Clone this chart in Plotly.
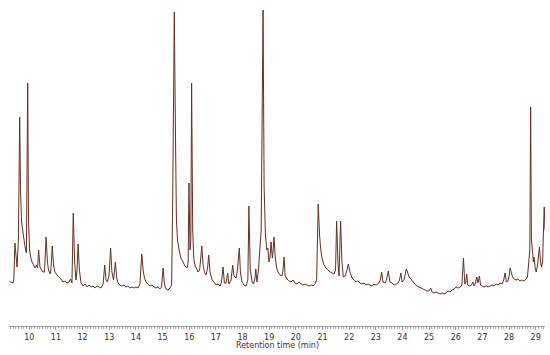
import plotly.graph_objects as go

# retention time (min) and detector response (arbitrary units)
retention_time = [
    9.26, 9.31, 9.39, 9.42, 9.46, 9.50, 9.54, 9.59, 9.64, 9.67,
    9.71, 9.74, 9.78, 9.82, 9.86, 9.89, 9.94, 9.97, 10.01, 10.05,
    10.10, 10.16, 10.21, 10.27, 10.31, 10.35, 10.40, 10.46, 10.51, 10.57,
    10.63, 10.68, 10.72, 10.78, 10.81, 10.86, 10.91, 10.96, 11.04, 11.11,
    11.19, 11.26, 11.34, 11.41, 11.49, 11.55, 11.60, 11.65, 11.70, 11.75,
    11.79, 11.83, 11.88, 11.94, 12.02, 12.09, 12.17, 12.24, 12.32, 12.39,
    12.47, 12.54, 12.62, 12.69, 12.77, 12.83, 12.88, 12.93, 12.99, 13.05,
    13.10, 13.16, 13.23, 13.28, 13.33, 13.40, 13.48, 13.55, 13.63, 13.70,
    13.78, 13.85, 13.93, 14.00, 14.08, 14.15, 14.22, 14.27, 14.32, 14.38,
    14.45, 14.53, 14.60, 14.68, 14.75, 14.83, 14.90, 14.96, 15.02, 15.07,
    15.13, 15.20, 15.28, 15.34, 15.38, 15.44, 15.49, 15.52, 15.56, 15.62,
    15.69, 15.77, 15.84, 15.92, 15.96, 15.99, 16.03, 16.06, 16.09, 16.13,
    16.17, 16.22, 16.27, 16.33, 16.39, 16.42, 16.47, 16.52, 16.57, 16.63,
    16.69, 16.73, 16.78, 16.86, 16.93, 17.01, 17.08, 17.16, 17.21, 17.27,
    17.32, 17.38, 17.44, 17.49, 17.57, 17.63, 17.68, 17.76, 17.81, 17.88,
    17.92, 17.98, 18.05, 18.13, 18.20, 18.24, 18.29, 18.36, 18.41, 18.47,
    18.50, 18.54, 18.60, 18.66, 18.70, 18.77, 18.81, 18.86, 18.91, 18.95,
    18.99, 19.03, 19.07, 19.12, 19.15, 19.18, 19.23, 19.28, 19.33, 19.41,
    19.48, 19.52, 19.56, 19.60, 19.67, 19.74, 19.82, 19.89, 19.97, 20.05,
    20.12, 20.20, 20.27, 20.35, 20.42, 20.50, 20.57, 20.65, 20.72, 20.78,
    20.84, 20.89, 20.93, 20.98, 21.06, 21.13, 21.21, 21.28, 21.36, 21.43,
    21.49, 21.53, 21.58, 21.62, 21.68, 21.73, 21.78, 21.85, 21.90, 21.97,
    22.03, 22.11, 22.18, 22.26, 22.33, 22.41, 22.48, 22.56, 22.63, 22.71,
    22.78, 22.86, 22.93, 23.01, 23.08, 23.16, 23.22, 23.27, 23.35, 23.40,
    23.47, 23.53, 23.61, 23.69, 23.76, 23.84, 23.89, 23.94, 23.99, 24.06,
    24.10, 24.14, 24.19, 24.25, 24.32, 24.40, 24.47, 24.55, 24.62, 24.70,
    24.77, 24.85, 24.92, 25.00, 25.06, 25.11, 25.19, 25.26, 25.34, 25.41,
    25.49, 25.56, 25.64, 25.71, 25.79, 25.86, 25.94, 26.01, 26.09, 26.17,
    26.23, 26.29, 26.34, 26.38, 26.41, 26.45, 26.52, 26.59, 26.64, 26.69,
    26.74, 26.79, 26.83, 26.89, 26.93, 26.99, 27.06, 27.14, 27.21, 27.29,
    27.36, 27.44, 27.51, 27.59, 27.66, 27.74, 27.80, 27.85, 27.90, 27.96,
    28.00, 28.04, 28.08, 28.13, 28.19, 28.26, 28.34, 28.41, 28.49, 28.56,
    28.64, 28.69, 28.74, 28.78, 28.81, 28.84, 28.87, 28.91, 28.94, 28.98,
    29.02, 29.07, 29.14, 29.18, 29.22, 29.26, 29.28, 29.32, 29.35,
]

abundance = [
    45, 44, 43, 47, 83, 71, 59, 86, 209, 136,
    104, 98, 90, 83, 76, 73, 243, 106, 76, 69,
    64, 61, 58, 61, 58, 76, 59, 56, 54, 54,
    89, 64, 56, 52, 56, 80, 61, 54, 51, 49,
    47, 44, 45, 43, 44, 47, 43, 113, 64, 46,
    56, 82, 56, 43, 40, 42, 39, 41, 39, 40,
    38, 40, 39, 38, 42, 61, 46, 44, 50, 78,
    54, 46, 64, 48, 43, 41, 40, 41, 39, 40,
    38, 39, 38, 39, 38, 42, 72, 56, 48, 44,
    42, 40, 41, 39, 38, 39, 37, 39, 58, 42,
    37, 36, 38, 41, 126, 314, 176, 106, 86, 76,
    68, 64, 60, 58, 64, 143, 76, 86, 243, 96,
    68, 60, 58, 54, 56, 64, 80, 61, 54, 51,
    58, 71, 54, 46, 44, 41, 42, 40, 44, 59,
    43, 43, 53, 42, 46, 61, 50, 48, 56, 78,
    54, 44, 41, 40, 46, 120, 56, 44, 42, 48,
    57, 44, 56, 81, 96, 316, 139, 91, 76, 78,
    64, 68, 84, 68, 76, 89, 68, 58, 54, 51,
    50, 56, 69, 50, 47, 45, 44, 46, 43, 42,
    44, 42, 41, 42, 41, 40, 41, 40, 42, 46,
    122, 91, 78, 68, 61, 58, 56, 54, 53, 52,
    56, 105, 64, 50, 105, 64, 49, 50, 54, 62,
    54, 48, 46, 44, 45, 43, 42, 43, 41, 42,
    41, 40, 42, 41, 42, 45, 54, 44, 43, 46,
    55, 44, 43, 41, 42, 43, 46, 53, 44, 46,
    51, 57, 54, 49, 47, 44, 42, 40, 39, 38,
    37, 36, 35, 35, 38, 34, 33, 34, 33, 32,
    33, 32, 33, 35, 34, 36, 37, 39, 38, 39,
    41, 68, 42, 44, 52, 41, 40, 41, 44, 40,
    43, 49, 43, 50, 41, 40, 39, 40, 39, 40,
    41, 40, 42, 41, 43, 42, 46, 53, 44, 45,
    50, 58, 54, 49, 47, 46, 47, 45, 46, 45,
    47, 49, 64, 76, 219, 86, 79, 64, 69, 58,
    54, 61, 79, 64, 59, 64, 86, 119, 96,
]

tick_values = list(range(10, 30))
x_title = "Retention time (min)"

fig = go.Figure()

fig.add_trace(go.Scatter(
    x=retention_time,
    y=abundance,
    mode="lines",
    line=dict(color="#643024", width=1, simplify=False),
    hoverinfo="skip",
))

fig.update_layout(
    width=550,
    height=355,
    margin=dict(l=9, r=5, t=0, b=29),
    paper_bgcolor="white",
    plot_bgcolor="white",
    showlegend=False,
    font=dict(family="DejaVu Sans, Verdana, sans-serif", size=8, color="#333333"),
)

fig.update_xaxes(
    range=[9.238, 29.349],
    tickvals=tick_values,
    ticktext=[str(v) for v in tick_values],
    showgrid=False,
    zeroline=False,
    showline=True,
    linecolor="#9a9a9a",
    linewidth=1,
    ticks="outside",
    ticklen=3,
    tickcolor="#9a9a9a",
    minor=dict(dtick=0.1, ticks="outside", ticklen=2, tickcolor="#b0b0b0", showgrid=False),
    tickfont=dict(size=8, color="#333333"),
)

fig.update_yaxes(range=[0, 326], visible=False)

fig.add_annotation(
    text=x_title,
    xref="paper", yref="paper",
    x=0.5, y=0,
    xanchor="center", yanchor="top",
    yshift=-13,
    showarrow=False,
    font=dict(size=8, color="#333333"),
)

# drop the default page margin so the figure sits at the window origin
fig.write_html(
    "out.html",
    config={"displayModeBar": False, "staticPlot": True},
    post_script="document.body.style.margin='0';document.body.style.overflow='hidden';",
)
